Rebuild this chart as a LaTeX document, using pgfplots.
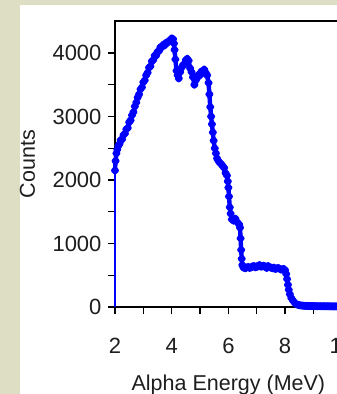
\documentclass[border=0pt]{standalone}
\usepackage{pgfplots}
\pgfplotsset{compat=1.18}
\usepackage{fontspec}
\setmainfont{Liberation Sans}
\definecolor{bgolive}{RGB}{221,222,196}
\definecolor{txt}{RGB}{30,30,30}
\definecolor{specblue}{RGB}{0,0,255}
\pgfplotstableread{
E C
2.00 2150
2.02 2300
2.05 2420
2.08 2480
2.12 2540
2.16 2570
2.20 2630
2.25 2640
2.30 2710
2.35 2730
2.40 2800
2.45 2820
2.50 2910
2.55 2940
2.60 3020
2.65 3070
2.70 3160
2.75 3220
2.80 3300
2.85 3350
2.90 3430
2.95 3460
3.00 3540
3.05 3570
3.10 3650
3.15 3690
3.20 3770
3.25 3790
3.30 3870
3.35 3890
3.40 3960
3.45 3960
3.50 4020
3.55 4030
3.60 4090
3.65 4090
3.70 4130
3.75 4120
3.80 4160
3.85 4160
3.90 4190
3.95 4190
4.00 4230
4.05 4220
4.08 4150
4.10 4050
4.13 3900
4.17 3720
4.21 3650
4.25 3600
4.30 3700
4.35 3770
4.40 3810
4.45 3820
4.50 3890
4.55 3910
4.60 3880
4.65 3760
4.70 3700
4.75 3620
4.80 3500
4.85 3570
4.90 3610
4.95 3660
5.00 3650
5.05 3710
5.10 3690
5.15 3740
5.20 3690
5.25 3650
5.30 3530
5.33 3350
5.36 3150
5.39 3000
5.42 2880
5.45 2750
5.48 2620
5.52 2500
5.56 2420
5.60 2340
5.65 2300
5.70 2270
5.75 2250
5.80 2220
5.85 2190
5.90 2110
5.95 2070
5.98 1980
6.00 1880
6.02 1740
6.05 1570
6.08 1470
6.12 1380
6.18 1360
6.25 1390
6.32 1330
6.38 1300
6.41 1250
6.43 1080
6.45 900
6.47 760
6.49 660
6.53 620
6.60 610
6.65 625
6.70 630
6.75 615
6.80 625
6.85 640
6.90 645
6.95 625
7.00 630
7.05 650
7.10 660
7.15 635
7.20 640
7.25 650
7.30 630
7.35 615
7.40 645
7.45 630
7.50 620
7.55 610
7.60 620
7.65 600
7.70 605
7.75 615
7.80 605
7.85 590
7.90 590
7.95 600
8.00 580
8.04 520
8.07 440
8.10 350
8.13 270
8.17 200
8.22 140
8.28 100
8.35 60
8.40 45
8.45 35
8.50 28
8.55 25
8.60 22
8.65 20
8.70 18
8.75 17
8.80 16
8.85 15
8.90 15
8.95 14
9.00 14
9.05 13
9.10 13
9.15 12
9.20 12
9.25 12
9.30 12
9.35 12
9.40 12
9.45 11
9.50 12
9.55 11
9.60 11
9.65 10
9.70 10
9.75 10
9.80 10
9.85 10
9.90 10
9.95 10
10.00 10
}\spectrum
\begin{document}
\begin{tikzpicture}[x=1pt,y=1pt]
\path[use as bounding box] (0,0) rectangle (337,394);
\fill[bgolive] (0,0) rectangle (337,394);
\fill[white] (20,0) rectangle (337,389);
\begin{scope}
\clip (0,0) rectangle (337,394);
\begin{axis}[
  at={(115pt,87pt)}, anchor=south west,
  scale only axis,
  width=226.8pt, height=285.75pt,
  xmin=2, xmax=10, ymin=0, ymax=4500,
  xtick={2,4,6,8,10},
  ytick={0,1000,2000,3000,4000},
  minor x tick num=1, minor y tick num=1,
  xtick pos=left, ytick pos=left,
  tick align=outside,
  major tick length=7pt, minor tick length=7pt,
  tick style={line width=1.2pt, black},
  axis line style={line width=2.2pt, black},
  clip=false,
  /pgf/number format/assume math mode=true,
  /pgf/number format/1000 sep={},
  ticklabel style={font=\fontsize{22}{26}\selectfont, text=txt},
  yticklabel style={xshift=-3pt},
  xticklabel style={yshift=-21pt},
  label style={font=\fontsize{21.5}{25}\selectfont, text=txt},
  xlabel={Alpha Energy (MeV)},
  xlabel style={at={(axis description cs:0.5,-0.2905)}, anchor=base},
  ylabel={Counts},
  ylabel style={at={(axis description cs:-0.386,0.5)}, anchor=center, rotate=0},
]
\addplot[color=specblue, line width=2.2pt, mark=none] coordinates {(2,0) (2,2150)};
\addplot[color=specblue, line width=4.4pt, line join=round, line cap=round, mark=*, mark size=1.8pt, mark options={solid}] table[x=E,y=C] {\spectrum};
\end{axis}
\end{scope}
\end{tikzpicture}
\end{document}
